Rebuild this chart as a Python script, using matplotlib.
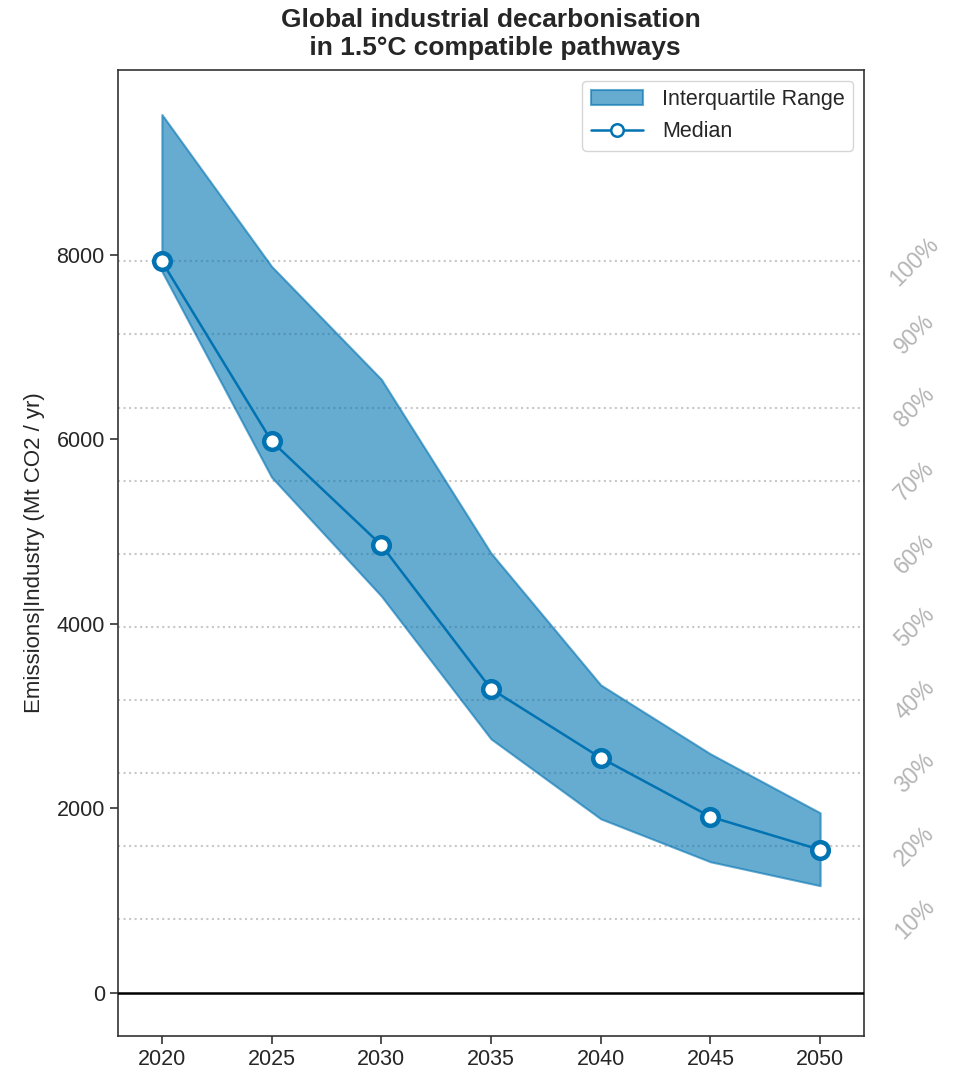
import numpy as np
import matplotlib
matplotlib.use("Agg")
import matplotlib.pyplot as plt
from matplotlib.lines import Line2D
from matplotlib.patches import Patch
import seaborn as sns

# =========================
# DATA
# =========================

years = [2020, 2025, 2030, 2035, 2040, 2045, 2050]

median = [7926, 5977, 4851, 3292, 2545, 1906, 1548]

q25 = [7818, 5587, 4299, 2750, 1884, 1418, 1159]

q75 = [9518, 7872, 6648, 4764, 3335, 2588, 1949]

pct_levels = [10, 20, 30, 40, 50, 60, 70, 80, 90, 100]


# =========================
# STYLE
# =========================

sns.set_theme(style="ticks", context="notebook")
plt.rcParams["font.family"] = ["Liberation Sans", "DejaVu Sans"]

blue = "#0173b2"


# =========================
# PLOT
# =========================

fig = plt.figure(figsize=(9.56, 10.72), dpi=100)
ax = fig.add_axes([0.1234, 0.0336, 0.7804, 0.9011])

ax.fill_between(
    years, q25, q75,
    color=blue, alpha=0.6, linewidth=1.5
)

ax.plot(
    years, median,
    color=blue, linewidth=1.8,
    marker="o", markersize=12,
    markerfacecolor="white", markeredgecolor=blue, markeredgewidth=3.2,
    zorder=4
)

ax.axhline(0, color="black", linewidth=1.8, zorder=3)

# reduction levels relative to the 2020 median
base = median[0]
for p in pct_levels:
    level = base * p / 100
    ax.axhline(level, color="#c8c8c8", linestyle=":", linewidth=1.5, zorder=0)
    ax.text(
        1.068, level, f"{p}%",
        transform=ax.get_yaxis_transform(),
        rotation=45, color="#b4b4b4", fontsize=16.5,
        ha="center", va="center"
    )

ax.set_xlim(2018, 2052)
ax.set_ylim(-470, 10000)

ax.set_xticks(years)
ax.set_yticks([0, 2000, 4000, 6000, 8000])
ax.tick_params(labelsize=15.5, length=6, width=1.2, color="#333333")

for spine in ax.spines.values():
    spine.set_linewidth(1.2)
    spine.set_color("#333333")

ax.set_ylabel("Emissions|Industry (Mt CO2 / yr)", fontsize=16, labelpad=8)

ax.set_title(
    "Global industrial decarbonisation\n in 1.5°C compatible pathways",
    fontsize=19, fontweight="bold", pad=11
)

handles = [
    Patch(facecolor=blue, alpha=0.6, edgecolor=blue, linewidth=1.5),
    Line2D([], [], color=blue, linewidth=1.8, marker="o", markersize=9,
           markerfacecolor="white", markeredgecolor=blue, markeredgewidth=1.8),
]
ax.legend(
    handles, ["Interquartile Range", "Median"],
    loc="upper right", fontsize=15.5, frameon=True,
    handlelength=2.4, handletextpad=0.9
)

fig.savefig("out.png", dpi=100)
